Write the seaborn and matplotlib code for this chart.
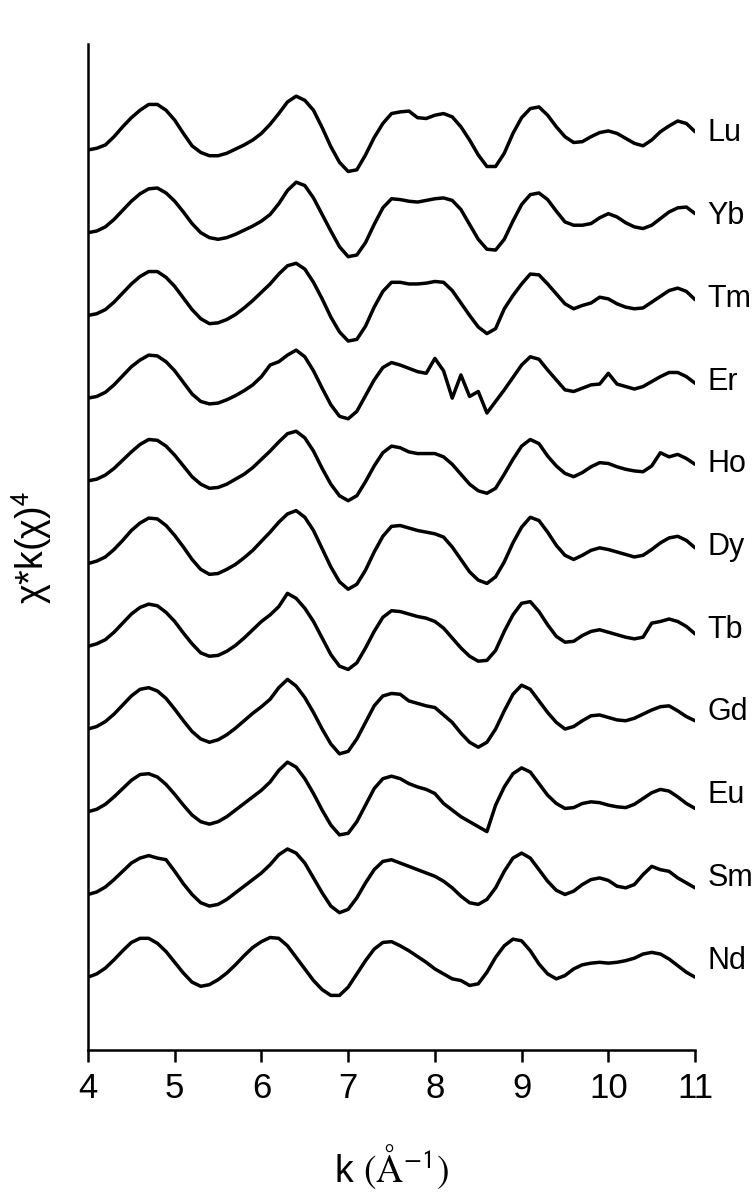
import numpy as np
import matplotlib
matplotlib.use("Agg")
import matplotlib.pyplot as plt
import seaborn as sns

# k grid (1/Angstrom), shared by every spectrum
k = [4.0, 4.1, 4.2, 4.3, 4.4, 4.5, 4.6, 4.7, 4.8, 4.9,
     5.0, 5.1, 5.2, 5.3, 5.4, 5.5, 5.6, 5.7, 5.8, 5.9,
     6.0, 6.1, 6.2, 6.3, 6.4, 6.5, 6.6, 6.7, 6.8, 6.9,
     7.0, 7.1, 7.2, 7.3, 7.4, 7.5, 7.6, 7.7, 7.8, 7.9,
     8.0, 8.1, 8.2, 8.3, 8.4, 8.5, 8.6, 8.7, 8.8, 8.9,
     9.0, 9.1, 9.2, 9.3, 9.4, 9.5, 9.6, 9.7, 9.8, 9.9,
     10.0, 10.1, 10.2, 10.3, 10.4, 10.5, 10.6, 10.7, 10.8, 10.9,
     11.0]

# chi*k^4 (arbitrary units, before stacking)
lu = [0, 2, 6, 16, 28, 39, 48, 55, 55, 48,
      36, 20, 5, -3, -7, -7, -4, 1, 6, 12,
      20, 31, 44, 58, 65, 60, 48, 27, 4, -15,
      -26, -24, -6, 15, 32, 44, 46, 47, 39, 38,
      42, 44, 40, 28, 12, -6, -20, -20, -4, 20,
      39, 50, 52, 42, 28, 16, 9, 10, 16, 21,
      23, 20, 14, 8, 5, 12, 22, 29, 35, 32,
      22]
yb = [0, 2, 7, 16, 27, 38, 47, 53, 54, 48,
      38, 25, 11, 0, -6, -8, -6, -2, 3, 8,
      14, 22, 35, 51, 61, 57, 42, 22, 2, -17,
      -29, -27, -12, 10, 30, 41, 40, 38, 37, 39,
      41, 42, 39, 28, 10, -8, -20, -21, -8, 14,
      34, 46, 48, 40, 26, 13, 9, 9, 11, 18,
      23, 19, 12, 7, 5, 9, 17, 25, 30, 31,
      23]
tm = [0, 2, 7, 16, 27, 38, 47, 53, 53, 46,
      35, 21, 7, -4, -10, -9, -5, 1, 9, 18,
      28, 38, 50, 60, 63, 56, 40, 20, -2, -20,
      -31, -29, -13, 10, 29, 40, 40, 38, 38, 39,
      41, 40, 30, 15, 0, -14, -22, -16, 8, 24,
      38, 50, 49, 38, 26, 14, 8, 12, 15, 22,
      20, 14, 10, 8, 9, 16, 23, 30, 33, 29,
      19]
er = [0, 2, 7, 16, 27, 38, 46, 52, 51, 44,
      33, 19, 5, -4, -7, -6, -2, 3, 9, 16,
      26, 40, 44, 52, 58, 50, 33, 12, -8, -22,
      -25, -16, 3, 22, 37, 43, 40, 36, 32, 30,
      48, 33, 0, 28, 2, 8, -18, -4, 10, 25,
      40, 50, 47, 34, 22, 10, 8, 12, 16, 17,
      30, 17, 14, 11, 14, 20, 26, 31, 31, 26,
      18]
ho = [0, 2, 7, 15, 25, 35, 44, 50, 49, 42,
      31, 18, 5, -4, -9, -8, -4, 2, 8, 16,
      26, 36, 47, 57, 60, 52, 36, 15, -4, -18,
      -24, -18, -1, 18, 34, 42, 40, 35, 33, 33,
      33, 29, 20, 8, -4, -12, -15, -9, 8, 26,
      42, 50, 45, 30, 18, 9, 5, 10, 17, 22,
      21, 17, 14, 12, 11, 18, 34, 29, 32, 27,
      20]
dy = [0, 3, 8, 17, 28, 40, 49, 55, 54, 46,
      34, 20, 5, -7, -13, -12, -7, -1, 7, 16,
      27, 38, 50, 60, 64, 56, 40, 18, -4, -22,
      -31, -25, -8, 14, 33, 45, 46, 43, 40, 38,
      36, 32, 20, 5, -10, -20, -24, -16, 2, 25,
      44, 56, 52, 38, 22, 10, 5, 10, 16, 19,
      17, 14, 11, 8, 10, 17, 25, 31, 33, 28,
      19]
tb = [0, 3, 8, 17, 28, 39, 47, 51, 49, 41,
      30, 16, 3, -8, -12, -11, -6, 1, 10, 20,
      30, 38, 48, 64, 58, 46, 30, 10, -10, -24,
      -28, -20, -2, 18, 35, 43, 42, 39, 36, 34,
      30, 22, 10, -2, -12, -18, -17, -5, 18, 38,
      52, 54, 42, 26, 12, 5, 6, 13, 18, 20,
      17, 14, 11, 9, 11, 28, 30, 33, 30, 24,
      15]
gd = [0, 3, 9, 18, 29, 40, 48, 50, 46, 37,
      24, 10, -3, -12, -16, -13, -7, 1, 10, 19,
      27, 36, 50, 60, 52, 38, 20, 0, -18, -30,
      -27, -12, 8, 28, 40, 43, 42, 34, 31, 28,
      26, 17, 8, -5, -16, -22, -16, 0, 22, 42,
      53, 48, 34, 20, 8, 0, 3, 10, 16, 17,
      14, 11, 10, 13, 18, 23, 27, 28, 22, 15,
      10]
eu = [0, 3, 9, 18, 28, 38, 45, 46, 42, 33,
      21, 8, -4, -12, -15, -12, -6, 2, 10, 18,
      26, 36, 50, 60, 54, 40, 22, 2, -16, -28,
      -26, -12, 8, 28, 40, 43, 40, 34, 30, 27,
      22, 10, 2, -6, -12, -18, -24, 8, 30, 46,
      53, 48, 34, 20, 10, 4, 5, 10, 12, 11,
      8, 6, 5, 9, 16, 23, 27, 25, 18, 10,
      4]
sm = [0, 3, 9, 18, 28, 38, 44, 47, 44, 42,
      28, 13, 0, -10, -14, -12, -6, 2, 10, 18,
      26, 36, 48, 55, 50, 38, 20, 2, -14, -22,
      -18, -4, 14, 30, 40, 42, 38, 34, 30, 26,
      22, 16, 8, -2, -10, -12, -6, 8, 28, 44,
      50, 44, 30, 16, 5, 0, 4, 12, 18, 20,
      17, 10, 8, 12, 24, 34, 30, 28, 20, 14,
      8]
nd = [0, 4, 11, 21, 32, 42, 47, 47, 41, 31,
      18, 5, -6, -11, -9, -3, 5, 15, 26, 36,
      43, 48, 47, 38, 24, 10, -4, -15, -22, -22,
      -12, 4, 20, 34, 42, 43, 38, 32, 25, 18,
      10, 4, -2, -4, -10, -8, 6, 24, 38, 46,
      44, 32, 16, 4, -2, 2, 10, 15, 17, 18,
      17, 18, 20, 23, 28, 30, 28, 22, 14, 6,
      0]

elements = ["Lu", "Yb", "Tm", "Er", "Ho", "Dy", "Tb", "Gd", "Eu", "Sm", "Nd"]
spectra = [lu, yb, tm, er, ho, dy, tb, gd, eu, sm, nd]

sns.set_style("ticks")
plt.rcParams["font.family"] = ["Liberation Sans", "DejaVu Sans"]
plt.rcParams["mathtext.fontset"] = "stix"
plt.rcParams["text.color"] = "black"
plt.rcParams["axes.labelcolor"] = "black"
plt.rcParams["xtick.color"] = "black"

fig = plt.figure(figsize=(7.56, 11.94), dpi=100)
ax = fig.add_axes([0.1164, 0.1206, 0.803, 0.8425])

step = 100  # vertical offset between stacked spectra
n = len(elements)
for i, (name, vals) in enumerate(zip(elements, spectra)):
    off = (n - 1 - i) * step
    y = np.array(vals, dtype=float) + off
    sns.lineplot(x=k, y=y, color="black", linewidth=2.5, ax=ax,
                 estimator=None, sort=False, solid_joinstyle="round",
                 solid_capstyle="round")
    ax.text(11.14, off + 20, name, fontsize=22, va="center", ha="left",
            clip_on=False)

ax.set_xlim(4, 11)
ax.set_ylim(-88, 1128)
ax.set_xticks(range(4, 12))
ax.set_yticks([])
sns.despine(ax=ax)
for side in ["left", "bottom"]:
    ax.spines[side].set_linewidth(1.8)
    ax.spines[side].set_color("black")
ax.tick_params(axis="x", length=8.5, width=1.8, labelsize=25, pad=7)

ax.set_xlabel("k " + r"$(\mathrm{\AA}^{\mathsf{-1}})$", fontsize=27)
ax.xaxis.label.set_va("center")
ax.xaxis.set_label_coords(0.5, -0.116)
ax.set_ylabel(r"χ*k(χ)$^{\mathsf{4}}$", fontsize=27)
ax.yaxis.label.set_va("center")
ax.yaxis.set_label_coords(-0.092, 0.5)

fig.savefig("out.png", dpi=100)
